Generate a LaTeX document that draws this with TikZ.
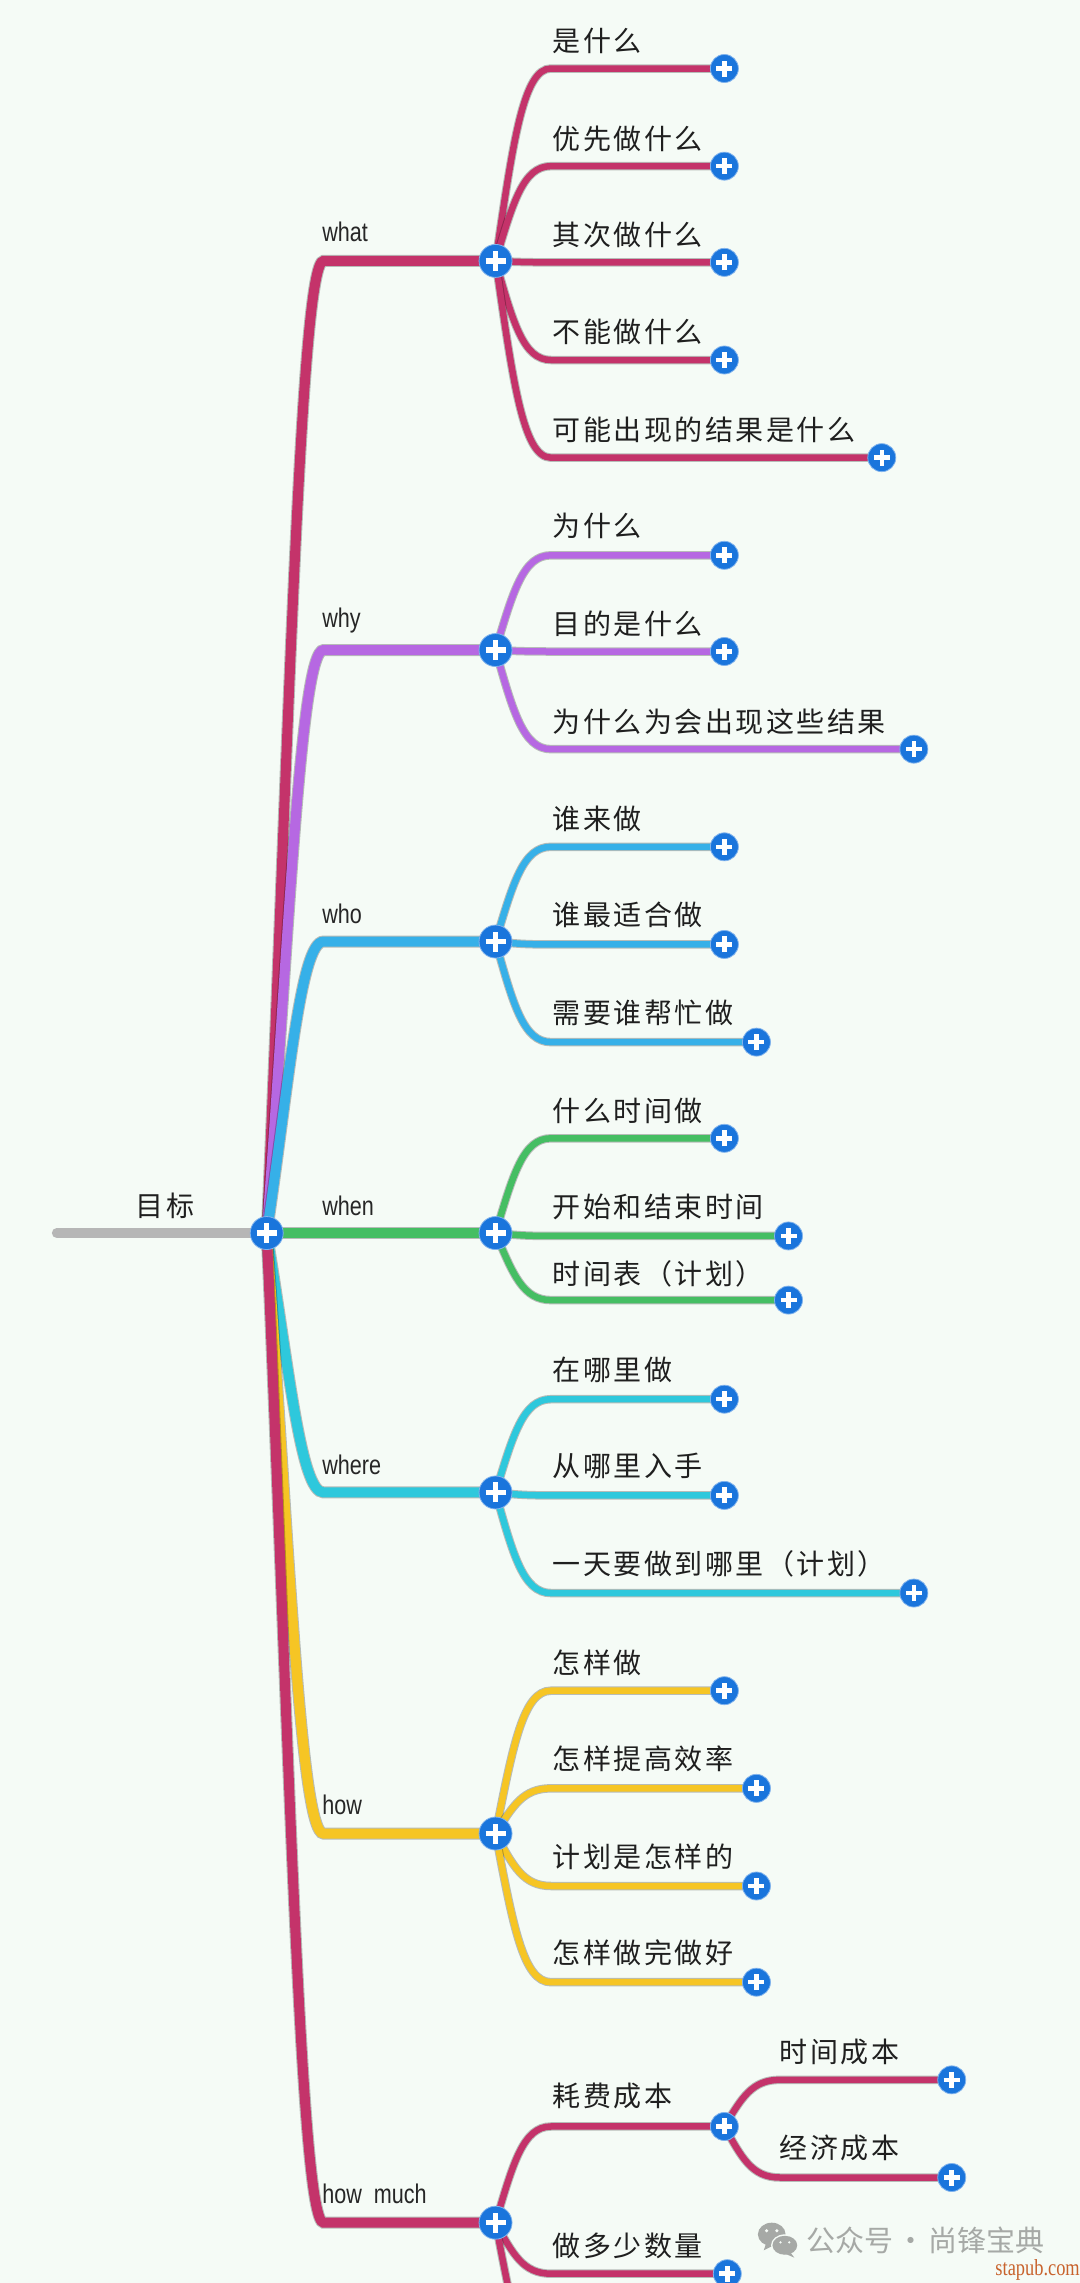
\documentclass[tikz,border=0pt]{standalone}
\usepackage{fontspec}
\usetikzlibrary{backgrounds,calc}
\setmainfont{Liberation Sans}
\newfontfamily\cjkf[LetterSpace=9]{Noto Sans CJK SC}
\newfontfamily\wmf{Noto Sans CJK SC}
\newfontfamily\latf[FakeStretch=0.8]{Liberation Sans}
\newfontfamily\stf[FakeStretch=0.8]{Liberation Serif}
\definecolor{cwhat}{HTML}{C4336A}
\definecolor{cwhy}{HTML}{B668E2}
\definecolor{cwho}{HTML}{36B0E8}
\definecolor{cwhen}{HTML}{45BE63}
\definecolor{cwhere}{HTML}{2EC8DC}
\definecolor{chow}{HTML}{F6C524}
\definecolor{cgrey}{HTML}{B6B6B6}
\definecolor{cplus}{HTML}{1A75DC}
\definecolor{cbg}{HTML}{F5FBF6}
\definecolor{cmark}{HTML}{A6A9A6}
\definecolor{cst}{HTML}{C8622C}
\tikzset{
  plusbig/.style={circle,fill=cplus,draw=cplus!55,line width=.8pt,minimum size=33pt,inner sep=0pt,
    path picture={\draw[white,line width=5.5pt]
      ([xshift=-10pt]path picture bounding box.center)--([xshift=10pt]path picture bounding box.center)
      ([yshift=-10pt]path picture bounding box.center)--([yshift=10pt]path picture bounding box.center);}},
  plussmall/.style={circle,fill=cplus,draw=cplus!55,line width=.8pt,minimum size=28pt,inner sep=0pt,
    path picture={\draw[white,line width=4.5pt]
      ([xshift=-8pt]path picture bounding box.center)--([xshift=8pt]path picture bounding box.center)
      ([yshift=-8pt]path picture bounding box.center)--([yshift=8pt]path picture bounding box.center);}},
  zh/.style={anchor=west,inner sep=0pt,text=black!88,font=\cjkf\fontsize{28}{28}\selectfont},
  en/.style={anchor=west,inner sep=0pt,text=black!85,font=\latf\fontsize{27}{27}\selectfont},
  thick1/.style={line width=10pt,line cap=round,preaction={draw,line width=12pt,draw opacity=.25}},
  thick2/.style={line width=6.5pt,line cap=round,preaction={draw,line width=8.5pt,draw opacity=.25}}
}
% top-level branch: id, y, colour
\newcommand{\topbr}[3]{%
  \node[plusbig] (#1) at (340,#2) {};
  \pgfmathsetmacro{\ca}{846+.5*(#2-846)}%
  \begin{scope}[on background layer]
    \draw[thick1,#3] (root.center) .. controls (198,\ca) and (206,#2) .. (222,#2) -- (#1.center);
  \end{scope}}
% sub branch: id, parent, parent x, parent y, x, y, colour
\newcommand{\subbr}[7]{%
  \node[plussmall] (#1) at (#5,#6) {};
  \pgfmathsetmacro{\ca}{#4+.62*(#6-#4)}%
  \pgfmathsetmacro{\xa}{#3+12}\pgfmathsetmacro{\xb}{#3+19}\pgfmathsetmacro{\xc}{#3+38}%
  \begin{scope}[on background layer]
    \draw[thick2,#7] (#2.center) .. controls (\xa,\ca) and (\xb,#6) .. (\xc,#6) -- (#1.center);
  \end{scope}}
\newcommand{\zhl}[4]{\node[zh] (#1) at (#2,#3) {#4};}
\newcommand{\enl}[4]{\node[en] (#1) at (#2,#3) {#4};}
\begin{document}
\begin{tikzpicture}[x=1.4575pt,y=-1.4575pt]
\useasboundingbox (0,0) rectangle (741,1566.4);
\clip (0,0) rectangle (741,1566.4);
\begin{scope}[on background layer]
  \fill[cbg] (0,0) rectangle (741,1566.4);
\end{scope}
\node[plusbig] (root) at (183,846) {};
\coordinate (rootend) at (39,846);
\begin{scope}[on background layer]
  \draw[line width=10pt,cgrey,line cap=round] (rootend) -- (root.center);
\end{scope}
\topbr{what}{179}{cwhat}
\topbr{why}{446}{cwhy}
\topbr{who}{646}{cwho}
\topbr{when}{846}{cwhen}
\topbr{where}{1024}{cwhere}
\topbr{how}{1258}{chow}
\topbr{howmuch}{1525}{cwhat}
% what
\subbr{a1}{what}{340}{179}{497}{47}{cwhat}
\subbr{a2}{what}{340}{179}{497}{114}{cwhat}
\subbr{a3}{what}{340}{179}{497}{180}{cwhat}
\subbr{a4}{what}{340}{179}{497}{247}{cwhat}
\subbr{a5}{what}{340}{179}{605}{314}{cwhat}
% why
\subbr{b1}{why}{340}{446}{497}{381}{cwhy}
\subbr{b2}{why}{340}{446}{497}{447}{cwhy}
\subbr{b3}{why}{340}{446}{627}{514}{cwhy}
% who
\subbr{c1}{who}{340}{646}{497}{581}{cwho}
\subbr{c2}{who}{340}{646}{497}{648}{cwho}
\subbr{c3}{who}{340}{646}{519}{715}{cwho}
% when
\subbr{d1}{when}{340}{846}{497}{781}{cwhen}
\subbr{d2}{when}{340}{846}{541}{848}{cwhen}
\subbr{d3}{when}{340}{846}{541}{892}{cwhen}
% where
\subbr{e1}{where}{340}{1024}{497}{960}{cwhere}
\subbr{e2}{where}{340}{1024}{497}{1026}{cwhere}
\subbr{e3}{where}{340}{1024}{627}{1093}{cwhere}
% how
\subbr{f1}{how}{340}{1258}{497}{1160}{chow}
\subbr{f2}{how}{340}{1258}{519}{1227}{chow}
\subbr{f3}{how}{340}{1258}{519}{1294}{chow}
\subbr{f4}{how}{340}{1258}{519}{1360}{chow}
% how much
\subbr{g1}{howmuch}{340}{1525}{497}{1459}{cwhat}
\subbr{g2}{howmuch}{340}{1525}{499}{1560}{cwhat}
\subbr{g11}{g1}{497}{1459}{653}{1427}{cwhat}
\subbr{g12}{g1}{497}{1459}{653}{1494}{cwhat}
\coordinate (g3) at (500,1627);
\begin{scope}[on background layer]
  \draw[thick2,cwhat] (howmuch.center) .. controls (352,1588) and (359,1627) .. (378,1627) -- (g3);
\end{scope}
% labels
\zhl{t0}{93}{827}{目标}
\enl{t1}{221}{159}{what}
\enl{t2}{221}{426}{why}
\enl{t3}{221}{627}{who}
\enl{t4}{221}{827}{when}
\enl{t5}{221}{1005}{where}
\enl{t6}{221}{1238}{how}
\enl{t7}{221}{1505}{how\ \ much}
\zhl{ta1}{379}{28}{是什么}
\zhl{ta2}{379}{95}{优先做什么}
\zhl{ta3}{379}{161}{其次做什么}
\zhl{ta4}{379}{228}{不能做什么}
\zhl{ta5}{379}{295}{可能出现的结果是什么}
\zhl{tb1}{379}{361}{为什么}
\zhl{tb2}{379}{428}{目的是什么}
\zhl{tb3}{379}{495}{为什么为会出现这些结果}
\zhl{tc1}{379}{562}{谁来做}
\zhl{tc2}{379}{628}{谁最适合做}
\zhl{tc3}{379}{695}{需要谁帮忙做}
\zhl{td1}{379}{762}{什么时间做}
\zhl{td2}{379}{828}{开始和结束时间}
\zhl{td3}{379}{874}{时间表（计划）}
\zhl{te1}{379}{940}{在哪里做}
\zhl{te2}{379}{1006}{从哪里入手}
\zhl{te3}{379}{1073}{一天要做到哪里（计划）}
\zhl{tf1}{379}{1141}{怎样做}
\zhl{tf2}{379}{1207}{怎样提高效率}
\zhl{tf3}{379}{1274}{计划是怎样的}
\zhl{tf4}{379}{1340}{怎样做完做好}
\zhl{tg1}{379}{1438}{耗费成本}
\zhl{tg2}{379}{1541}{做多少数量}
\zhl{tg11}{535}{1408}{时间成本}
\zhl{tg12}{535}{1474}{经济成本}
% watermark
\fill[cmark] (529.5,1533) ellipse (9.5 and 8);
\fill[cmark] (526,1538) -- (524,1544) -- (532,1540) -- cycle;
\fill[cbg] (538.5,1540.5) ellipse (9.5 and 7.5);
\fill[cmark] (538.5,1540.5) ellipse (8.5 and 6.5);
\fill[cmark] (542,1545) -- (545,1549) -- (538,1546) -- cycle;
\fill[cbg] (526,1530.5) circle (1.2) (533,1530.5) circle (1.2) (535.5,1538.5) circle (.9) (541.5,1538.5) circle (.9);
\node[anchor=west,inner sep=0pt,text=cmark,font=\wmf\fontsize{29}{29}\selectfont] (wm) at (553,1537) {公众号\hspace{3pt}·\hspace{3pt}尚锋宝典};
\node[anchor=east,inner sep=0pt,text=cst,font=\stf\fontsize{23}{23}\selectfont] (st) at (741,1557.5) {stapub.com};
\end{tikzpicture}
\end{document}
